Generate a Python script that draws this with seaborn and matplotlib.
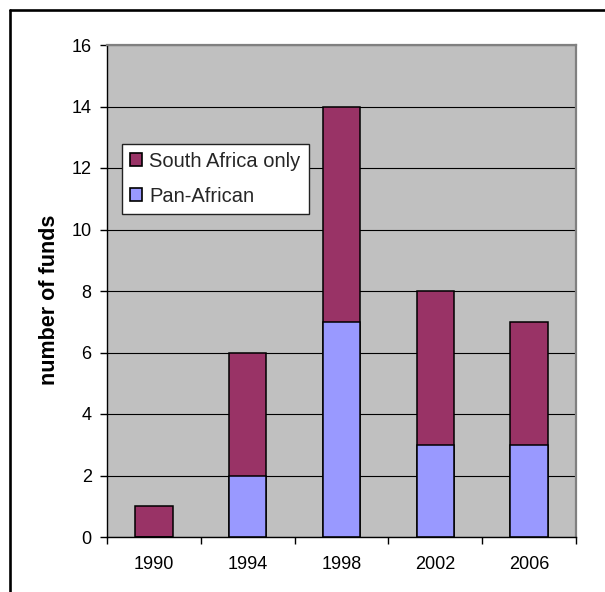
import matplotlib
matplotlib.use("Agg")
import matplotlib.pyplot as plt
from matplotlib.patches import Patch
from matplotlib.lines import Line2D
import seaborn as sns
import pandas as pd

# Fund counts by launch year
years = ["1990", "1994", "1998", "2002", "2006"]
south_africa_only = [1, 4, 7, 5, 4]
pan_african = [0, 2, 7, 3, 3]
series_labels = ["South Africa only", "Pan-African"]
y_ticks = [0, 2, 4, 6, 8, 10, 12, 14, 16]

MAROON = "#993366"
PERIWINKLE = "#9999FF"
PLOT_BG = "#C0C0C0"

sns.set_theme(style="white")
plt.rcParams["font.family"] = ["Liberation Sans", "DejaVu Sans"]

df = pd.DataFrame({
    "year": years,
    "south_africa_only": south_africa_only,
    "pan_african": pan_african,
})
df["total"] = df["south_africa_only"] + df["pan_african"]

fig = plt.figure(figsize=(6.05, 5.92), dpi=100)
ax = fig.add_axes([107 / 605, 55 / 592, 469 / 605, 492 / 592])
ax.set_facecolor(PLOT_BG)

bar_kw = dict(width=0.4, edgecolor="black", linewidth=1.1, saturation=1, ax=ax)
# stacked: full height in maroon, Pan-African share drawn over the base
sns.barplot(data=df, x="year", y="total", color=MAROON, order=years, **bar_kw)
sns.barplot(data=df, x="year", y="pan_african", color=PERIWINKLE, order=years, **bar_kw)

ax.set_xlim(-0.5, len(years) - 0.5)
ax.set_ylim(0, 16)
ax.set_yticks(y_ticks)
ax.yaxis.grid(True, color="black", linewidth=0.8)
ax.set_axisbelow(True)

# category boundaries carry the tick marks
ax.set_xticks([i - 0.5 for i in range(len(years) + 1)], minor=True)
ax.tick_params(axis="x", which="major", length=0, pad=14, labelsize=13, colors="black")
ax.tick_params(axis="x", which="minor", length=5, width=1, color="black", bottom=True)
ax.tick_params(axis="y", which="major", length=5, width=1, color="black", left=True,
               pad=6, labelsize=13, labelcolor="black")

for side in ("left", "bottom"):
    ax.spines[side].set_color("black")
    ax.spines[side].set_linewidth(1)
for side in ("top", "right"):
    ax.spines[side].set_visible(True)
    ax.spines[side].set_color("#808080")
    ax.spines[side].set_linewidth(1.6)

ax.set_xlabel("")
ax.set_ylabel("number of funds", fontsize=15.5, fontweight="bold", color="black")
ax.yaxis.set_label_coords(-0.10, 0.482)

handles = [Patch(facecolor=MAROON, edgecolor="black", linewidth=1.2),
           Patch(facecolor=PERIWINKLE, edgecolor="black", linewidth=1.2)]
leg = ax.legend(handles, series_labels, loc="upper left", bbox_to_anchor=(0.032, 0.799),
                borderaxespad=0, fontsize=14.5, frameon=True, fancybox=False, shadow=False,
                handlelength=0.6, handleheight=0.6, handletextpad=0.35,
                borderpad=0.4, labelspacing=0.78)
leg.get_frame().set_edgecolor("#222222")
leg.get_frame().set_linewidth(1)
leg.get_frame().set_facecolor("white")
leg.get_frame().set_alpha(1)

# chart frame (top and left edges)
fig.add_artist(Line2D([9.5 / 605, 1.0], [1 - 9.5 / 592, 1 - 9.5 / 592],
                      transform=fig.transFigure, color="black", linewidth=1.9))
fig.add_artist(Line2D([9.5 / 605, 9.5 / 605], [0.0, 1 - 9.5 / 592],
                      transform=fig.transFigure, color="black", linewidth=1.9))

fig.savefig("out.png", dpi=100, facecolor="white")
